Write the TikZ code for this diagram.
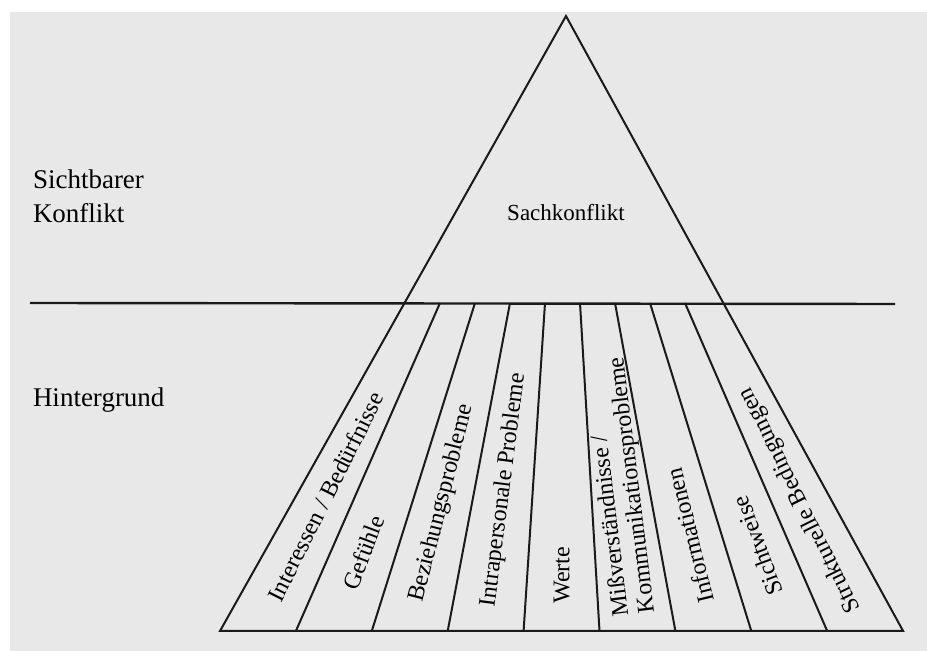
\documentclass[tikz,border=0pt]{standalone}
\usepackage{fontspec}
\setmainfont{Liberation Serif}
\definecolor{paper}{HTML}{E8E8E8}
\definecolor{ink}{HTML}{1A1A1A}
\begin{document}
\begin{tikzpicture}[x=0.5pt, y=-0.5pt, line width=1pt, draw=ink,
  side/.style={font=\fontsize{13.5}{17}\selectfont, inner sep=0pt, align=left},
  lbl/.style={font=\fontsize{12}{13}\selectfont, inner sep=0pt, sloped, allow upside down}]
   \useasboundingbox (0,0) rectangle (927,651);
   \fill[paper] (10,12) rectangle (927,651);
   % Spitze, Schnittpunkte mit der Linie und Grundlinie
   \coordinate (apex) at (566,16);
   \foreach \i in {0,...,9} {
     \coordinate (t\i) at ({405+35*\i},303);
     \coordinate (b\i) at ({220+75.9*\i},631);
   }
   \foreach \i in {0,...,8} {
     \coordinate (tm\i) at ({405+35*(\i+0.5)},303);
     \coordinate (bm\i) at ({220+75.9*(\i+0.5)},631);
   }
   \coordinate (lineL) at (30,303);
   \coordinate (lineR) at (895,304);
   \draw[line width=1.2pt] (lineL) -- (lineR);
   \draw (b0) -- (apex) -- (b9) -- cycle;
   \foreach \i in {1,...,8}
     \draw (t\i) -- (b\i);
   \node[side, anchor=north west] (sichtbar) at (32,169) {Sichtbarer\\Konflikt};
   \node[side, anchor=base west] (hintergrund) at (32,407) {Hintergrund};
   \node[font=\fontsize{11.5}{13}\selectfont, inner sep=0pt] (sachkonflikt) at (566,213) {Sachkonflikt};
   \path (bm0) -- (tm0) node[lbl, pos=0.41] (interessen) {Interessen / Bedürfnisse};
   \path (bm1) -- (tm1) node[lbl, pos=0.24] (gefuehle) {Gefühle};
   \path (bm2) -- (tm2) node[lbl, pos=0.39] (beziehung) {Beziehungsprobleme};
   \path (bm3) -- (tm3) node[lbl, pos=0.43] (intra) {Intrapersonale Probleme};
   \path (bm4) -- (tm4) node[lbl, pos=0.17] (werte) {Werte};
   \path (bm5) -- (tm5) node[lbl, pos=0.44, align=left] (kommunikation) {Mißverständnisse /\\Kommunikationsprobleme};
   \path (bm6) -- (tm6) node[lbl, pos=0.29] (information) {Informationen};
   \path (bm7) -- (tm7) node[lbl, pos=0.26] (sichtweise) {Sichtweise};
   \path (bm8) -- (tm8) node[lbl, pos=0.40] (struktur) {Strukturelle Bedingungen};
\end{tikzpicture}
\end{document}
